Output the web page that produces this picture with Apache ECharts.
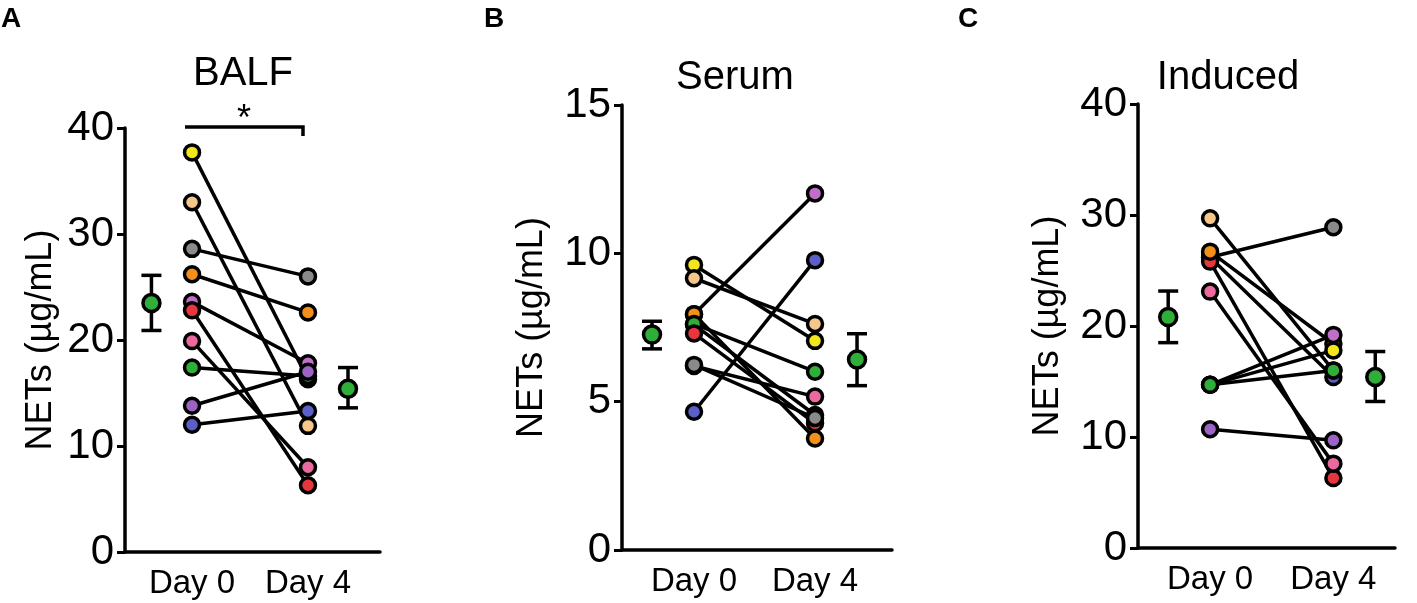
<!DOCTYPE html>
<html><head><meta charset="utf-8">
<script src="https://cdn.jsdelivr.net/npm/echarts@6/dist/echarts.min.js"></script>
<style>html,body{margin:0;padding:0;background:#fff}#c{width:1417px;height:603px}</style>
</head><body><div id="c"></div>
<script>
// ---------- data ----------
const days = ['Day 0', 'Day 4'];
const panelTitles = ['BALF', 'Serum', 'Induced'];
const panelLetters = ['A', 'B', 'C'];
const yAxisName = 'NETs (µg/mL)';
const yMax = [40, 15, 40];
const yInterval = [10, 5, 10];

// Panel A: BALF
const balfColors = ['#f3e61c', '#f7c68a', '#8a8a8a', '#f39019', '#c06ec8', '#e8363f', '#ea6aa0', '#2fae3a', '#9b63c4', '#5a60c8'];
const balfDay0   = [37.7, 33.0, 28.6, 26.2, 23.6, 22.8, 19.9, 17.4, 13.8, 12.0];
const balfDay4   = [16.3, 11.9, 26.0, 22.6, 17.8, 6.3, 8.0, 16.6, 17.0, 13.3];
const balfMean   = [23.5, 15.4];
const balfLow    = [20.9, 13.6];
const balfHigh   = [26.1, 17.4];
const balfSig    = ['*'];

// Panel B: Serum
const serumColors = ['#9b63c4', '#c06ec8', '#ea6aa0', '#f3e61c', '#f7c68a', '#f39019', '#2fae3a', '#e8363f', '#8a8a8a', '#5a60c8'];
const serumDay0   = [7.60, 7.95, 6.20, 9.61, 9.16, 7.95, 7.62, 7.30, 6.24, 4.66];
const serumDay4   = [4.55, 12.02, 5.17, 7.05, 7.62, 3.76, 6.01, 4.27, 4.45, 9.77];
const serumMean   = [7.26, 6.42];
const serumLow    = [6.78, 5.54];
const serumHigh   = [7.71, 7.29];

// Panel C: Induced
const indColors = ['#5a60c8', '#f7c68a', '#8a8a8a', '#e8363f', '#f39019', '#f3e61c', '#ea6aa0', '#c06ec8', '#2fae3a', '#9b63c4'];
const indDay0   = [26.2, 29.7, 26.2, 25.8, 26.7, 14.7, 23.1, 14.7, 14.7, 10.7];
const indDay4   = [15.4, 16.0, 28.9, 6.3, 18.4, 17.8, 7.6, 19.2, 16.0, 9.7];
const indMean   = [20.8, 15.4];
const indLow    = [18.5, 13.2];
const indHigh   = [23.15, 17.7];

// ---------- layout ----------
const FONT = 'Liberation Sans, Arial, Helvetica, sans-serif';
const grids = [
  {left: 125, top: 128, width: 255, height: 424},
  {left: 622, top: 105, width: 270, height: 445},
  {left: 1138, top: 104, width: 257, height: 444}
];
const xRange = [[0.422, 2.621], [0.405, 2.636], [0.415, 2.50]];
const meanX = [[0.65, 2.345], [0.653, 2.347], [0.66, 2.34]];
const nameGaps = [66, 72, 72];
const titlePos = [[243, 74], [735, 78], [1228, 78]];
const letterPos = [[1, 5], [484, 5], [958, 5]];

const panels = [
  {colors: balfColors, d0: balfDay0, d4: balfDay4, mean: balfMean, lo: balfLow, hi: balfHigh},
  {colors: serumColors, d0: serumDay0, d4: serumDay4, mean: serumMean, lo: serumLow, hi: serumHigh},
  {colors: indColors, d0: indDay0, d4: indDay4, mean: indMean, lo: indLow, hi: indHigh}
];

const xAxes = [], yAxes = [], series = [], graphics = [];
panels.forEach((p, i) => {
  xAxes.push({
    gridIndex: i, type: 'value', min: xRange[i][0], max: xRange[i][1],
    axisLine: {show: true, onZero: false, lineStyle: {color: '#000', width: 3.5}},
    axisTick: {show: false},
    splitLine: {show: false},
    axisLabel: {
      show: true, customValues: [1, 2], margin: 15,
      formatter: v => days[Math.round(v) - 1] || '',
      color: '#000', fontSize: 33, fontFamily: FONT
    }
  });
  yAxes.push({
    gridIndex: i, type: 'value', min: 0, max: yMax[i], interval: yInterval[i],
    name: yAxisName, nameLocation: 'middle', nameRotate: 90, nameGap: nameGaps[i],
    nameTextStyle: {color: '#000', fontSize: 36, fontFamily: FONT},
    axisLine: {show: true, lineStyle: {color: '#000', width: 3.5}},
    axisTick: {show: true, length: 8, lineStyle: {color: '#000', width: 3}},
    splitLine: {show: false},
    axisLabel: {color: '#000', fontSize: 42, fontFamily: FONT, margin: 11}
  });
  p.d0.forEach((v, k) => {
    series.push({
      type: 'line', xAxisIndex: i, yAxisIndex: i,
      data: [[1, v], [2, p.d4[k]]],
      symbol: 'circle', symbolSize: 15, showSymbol: true,
      lineStyle: {color: '#000', width: 3.5},
      itemStyle: {color: p.colors[k], borderColor: '#000', borderWidth: 3.5},
      emphasis: {disabled: true}, animation: false, z: 3
    });
  });
  series.push({
    type: 'custom', xAxisIndex: i, yAxisIndex: i, animation: false, z: 4,
    encode: {x: 0, y: [1, 2]},
    data: [[meanX[i][0], p.lo[0], p.hi[0]], [meanX[i][1], p.lo[1], p.hi[1]]],
    renderItem: (params, api) => {
      const x = api.value(0);
      const a = api.coord([x, api.value(1)]), b = api.coord([x, api.value(2)]);
      const w = 10, st = {stroke: '#000', lineWidth: 3.5, fill: null};
      return {type: 'group', children: [
        {type: 'line', shape: {x1: a[0], y1: a[1], x2: b[0], y2: b[1]}, style: st},
        {type: 'line', shape: {x1: a[0] - w, y1: a[1], x2: a[0] + w, y2: a[1]}, style: st},
        {type: 'line', shape: {x1: b[0] - w, y1: b[1], x2: b[0] + w, y2: b[1]}, style: st}
      ]};
    }
  });
  series.push({
    type: 'scatter', xAxisIndex: i, yAxisIndex: i, animation: false, z: 5,
    data: [[meanX[i][0], p.mean[0]], [meanX[i][1], p.mean[1]]],
    symbol: 'circle', symbolSize: 17,
    itemStyle: {color: '#2fae3a', borderColor: '#000', borderWidth: 3.5, opacity: 1}
  });
  graphics.push({type: 'text', x: titlePos[i][0], y: titlePos[i][1],
    style: {text: panelTitles[i], fontSize: 40, fontFamily: FONT, fill: '#000', align: 'center', verticalAlign: 'middle'}});
  graphics.push({type: 'text', x: letterPos[i][0], y: letterPos[i][1],
    style: {text: panelLetters[i], fontSize: 28, fontWeight: 'bold', fontFamily: FONT, fill: '#000', align: 'left', verticalAlign: 'top'}});
});

// significance bracket on BALF panel (Day 0 vs Day 4)
series.push({
  type: 'custom', xAxisIndex: 0, yAxisIndex: 0, animation: false, clip: false, z: 6,
  data: [[1, 2, 40]],
  renderItem: (params, api) => {
    const p1 = api.coord([api.value(0), api.value(2)]);
    const p2 = api.coord([api.value(1), api.value(2)]);
    const st = {stroke: '#000', lineWidth: 3.5, fill: null};
    const xl = p1[0] - 7, xr = p2[0] - 5, y = p1[1] - 1;
    return {type: 'group', children: [
      {type: 'polyline', shape: {points: [[xl, y], [xr, y], [xr, y + 9]]}, style: st},
      {type: 'text', style: {text: balfSig[0], x: (xl + xr) / 2, y: y - 25, fontSize: 36, fontFamily: FONT, fill: '#000', align: 'center', verticalAlign: 'top'}}
    ]};
  }
});

const chart = echarts.init(document.getElementById('c'), null, {renderer: 'canvas'});
chart.setOption({
  backgroundColor: '#fff',
  animation: false,
  grid: grids,
  xAxis: xAxes,
  yAxis: yAxes,
  series: series,
  graphic: graphics
});
</script>
</body></html>
